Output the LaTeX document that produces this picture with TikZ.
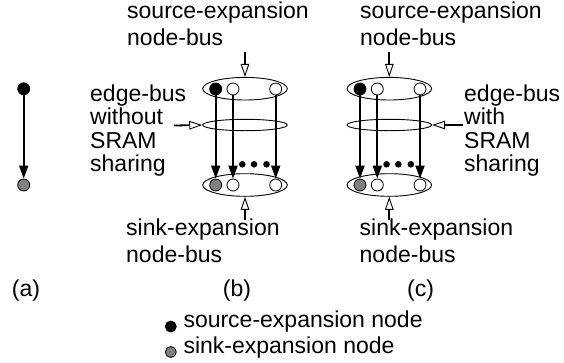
\documentclass[tikz,border=0pt]{standalone}
\usepackage{fontspec}
\setmainfont{Liberation Sans}
\usetikzlibrary{arrows.meta,shapes.geometric}
\begin{document}
\begin{tikzpicture}[x=1pt,y=-1pt,
  lbl/.style={anchor=base west, inner sep=0, align=left, font=\fontsize{23}{27}\selectfont},
  sidelbl/.style={lbl, font=\fontsize{23}{23.5}\selectfont},
  caption/.style={anchor=base, inner sep=0, font=\fontsize{23}{27}\selectfont},
  dotsrc/.style={circle, draw, fill=black, line width=0.8pt, minimum size=12pt, inner sep=0},
  dotsnk/.style={dotsrc, fill=gray},
  dotw/.style={dotsrc, fill=white},
  legsrc/.style={dotsrc, minimum size=11pt},
  legsnk/.style={dotsnk, minimum size=11pt},
  bus/.style={ellipse, draw, line width=0.9pt, minimum width=84.6pt, minimum height=22.6pt, inner sep=0},
  thinbus/.style={bus, minimum height=11.4pt},
  ellip/.style={circle, fill=black, minimum size=6.6pt, inner sep=0},
  busarrow/.style={line width=1.8pt, -{Triangle[length=13pt,width=9pt]}},
  feedarrow/.style={line width=1.8pt, -{Triangle[length=13pt,width=8.5pt,fill=white,line width=0.9pt]}},
]
\useasboundingbox (0,0) rectangle (564,362);

% (a)
\node[dotsrc] (asrc) at (23.7,88.8) {};
\node[dotsnk] (asnk) at (23.7,185) {};
\draw[busarrow] (asrc) -- (asnk);

% (b) and (c)
\foreach \cx/\p in {245/b, 389.3/c} {
  \node[bus] (\p top) at (\cx,88.7) {};
  \node[thinbus] (\p mid) at (\cx,125) {};
  \node[bus] (\p bot) at (\cx,185) {};
  \node[dotsrc] (\p t1) at (\cx-29.3,89) {};
  \node[dotw] (\p t2) at (\cx-12,89) {};
  \node[dotw] (\p t3) at (\cx+30.7,89) {};
  \node[dotsnk] (\p b1) at (\cx-29.3,185) {};
  \node[dotw] (\p b2) at (\cx-12,185) {};
  \node[dotw] (\p b3) at (\cx+30.7,185) {};
  \node[ellip] (\p e1) at (\cx-2.7,164.3) {};
  \node[ellip] (\p e2) at (\cx+9,164.3) {};
  \node[ellip] (\p e3) at (\cx+21.5,164.3) {};
  \draw[busarrow] (\p t1) -- (\p b1);
  \draw[busarrow] (\p t2) -- (\p b2);
  \draw[busarrow] (\p t3) -- (\p b3);
  \coordinate (\p in) at (\cx,52);
  \draw[feedarrow] (\p in) -- (\p top.north);
  \coordinate (\p out) at (\cx,220);
  \draw[feedarrow] (\p out) -- (\p bot.south);
}
\coordinate (bside) at (174,125.5);
\draw[feedarrow] (bside) -- (bmid.west);
\coordinate (cside) at (463,125);
\draw[feedarrow] (cside) -- (cmid.east);

% labels (anchor = baseline of last line)
\node[lbl] (bsrclbl) at (127,45) {source-expansion\\node-bus};
\node[lbl] (csrclbl) at (360,45) {source-expansion\\node-bus};
\node[sidelbl] (bedgelbl) at (90,171.5) {edge-bus\\without\\SRAM\\sharing};
\node[sidelbl] (cedgelbl) at (464,171.5) {edge-bus\\with\\SRAM\\sharing};
\node[lbl] (bsnklbl) at (126,262.5) {sink-expansion\\node-bus};
\node[lbl] (csnklbl) at (359.5,262.5) {sink-expansion\\node-bus};

\node[caption] (capa) at (26,296.5) {(a)};
\node[caption] (capb) at (237,296.5) {(b)};
\node[caption] (capc) at (420.5,296.5) {(c)};

% legend
\node[legsrc] (legs) at (170.8,326.5) {};
\node[lbl] (legstxt) at (183.3,327.7) {source-expansion node};
\node[legsnk] (legk) at (170.8,352) {};
\node[lbl] (legktxt) at (183.3,353.3) {sink-expansion node};
\end{tikzpicture}
\end{document}
